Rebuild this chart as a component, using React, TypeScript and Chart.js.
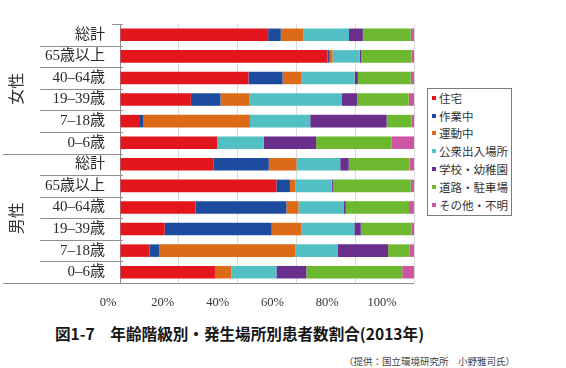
import React, { useEffect, useRef } from 'react';
import { Chart, registerables } from 'chart.js';

Chart.register(...registerables);

// ---- data ----
const ageGroups = ['総計', '65歳以上', '40–64歳', '19–39歳', '7–18歳', '0–6歳'];
const sexGroups = ['女性', '男性'];
const categories = [...ageGroups, ...ageGroups];

const places = ['住宅', '作業中', '運動中', '公衆出入場所', '学校・幼稚園', '道路・駐車場', 'その他・不明'];
const placeColors = ['#E4161D', '#1D4B9E', '#DC6A16', '#52BFC4', '#6A2E8D', '#6CB92F', '#CE55A4'];

// order: 女性(総計,65+,40-64,19-39,7-18,0-6), 男性(same)
const home = [50.4, 70.6, 43.7, 24.1, 6.8, 33.1, 31.9, 53.2, 25.7, 15.2, 10.1, 32.3];
const work = [4.3, 0.7, 11.6, 10.1, 1.2, 0, 18.7, 4.6, 30.9, 36.4, 3.3, 0];
const sport = [7.6, 1.0, 6.3, 9.9, 36.2, 0, 9.4, 1.8, 4.1, 10.1, 46.2, 5.6];
const publicPlaces = [15.6, 9.3, 18.2, 31.4, 20.5, 15.8, 14.9, 12.4, 15.5, 18.0, 14.4, 15.3];
const school = [4.7, 0.5, 1.1, 5.1, 26.0, 17.8, 2.9, 0.4, 0.6, 2.2, 17.2, 10.2];
const road = [16.3, 17.1, 18.0, 17.6, 8.4, 25.6, 20.7, 26.5, 21.5, 17.2, 7.2, 32.6];
const other = [1.1, 0.8, 1.1, 1.8, 0.9, 7.7, 1.5, 1.1, 1.7, 0.9, 1.6, 4.0];
const seriesValues = [home, work, sport, publicPlaces, school, road, other];

const xTickValues = [0, 20, 40, 60, 80, 100];
const xTickLabels = ['0%', '20%', '40%', '60%', '80%', '100%'];

const titleText = '図1-7　年齢階級別・発生場所別患者数割合(2013年)';
const sourceText = '（提供：国立環境研究所　小野雅司氏）';

// ---- styling ----
const SERIF = '"Liberation Serif", "Noto Sans CJK JP", serif';
const SANS = '"Noto Sans CJK JP", "Noto Sans", sans-serif';
// the printed tick labels sit on a slightly compressed, shifted scale
const LABEL_SPREAD = 0.932;
const LABEL_SHIFT = -4.08;

const separatorPlugin = {
  id: 'separators',
  afterDraw(chart: any) {
    const { ctx, chartArea, scales } = chart;
    const y = scales.y;
    const n = categories.length;
    const per = ageGroups.length;
    const boundary = (i: number) => {
      if (i === 0) return chartArea.top;
      if (i === n) return chartArea.bottom;
      return (y.getPixelForValue(i - 1) + y.getPixelForValue(i)) / 2;
    };
    ctx.save();
    ctx.strokeStyle = '#8e8e8e';
    ctx.lineWidth = 1;
    for (let i = 0; i <= n; i++) {
      const py = Math.round(boundary(i)) + 0.5;
      let x0 = 40;
      let x1 = chartArea.left + 3;
      if (i === 0) x0 = chartArea.left - 8;
      if (i % per === 0 && i !== 0) x0 = 3;
      if (i === n) x1 = chartArea.right;
      ctx.beginPath();
      ctx.moveTo(x0, py);
      ctx.lineTo(x1, py);
      ctx.stroke();
    }
    // group labels
    ctx.fillStyle = '#333';
    ctx.font = `16px ${SANS}`;
    ctx.textAlign = 'center';
    ctx.textBaseline = 'middle';
    sexGroups.forEach((g, gi) => {
      const cy = (boundary(gi * per) + boundary((gi + 1) * per)) / 2;
      ctx.save();
      ctx.translate(16, cy);
      ctx.rotate(-Math.PI / 2);
      ctx.fillText(g, 0, 0);
      ctx.restore();
    });
    ctx.restore();
  },
};

export default function App() {
  const canvasRef = useRef<HTMLCanvasElement | null>(null);

  useEffect(() => {
    if (!canvasRef.current) return;
    const chart = new Chart(canvasRef.current, {
      type: 'bar',
      data: {
        labels: categories,
        datasets: places.map((p, i) => ({
          label: p,
          data: seriesValues[i],
          backgroundColor: placeColors[i],
          borderWidth: 0,
          barPercentage: 0.58,
          categoryPercentage: 1.0,
        })),
      },
      options: {
        indexAxis: 'y',
        animation: false,
        responsive: false,
        maintainAspectRatio: false,
        layout: { padding: { top: 6, right: 152, left: 0, bottom: 0 } },
        plugins: { legend: { display: false }, tooltip: { enabled: false } },
        scales: {
          y: {
            type: 'category',
            stacked: true,
            grid: { display: false, drawTicks: false },
            border: { display: true, color: '#8c8c8c' },
            ticks: {
              padding: 15,
              color: '#2a2a2a',
              autoSkip: false,
              font: { family: SERIF, size: 15 },
            },
            afterFit: (s: any) => {
              s.width = 120;
            },
          },
          x: {
            type: 'linear',
            stacked: true,
            min: 0,
            max: 100,
            position: 'bottom',
            grid: {
              drawTicks: false,
              color: (c: any) => (c.tick && c.tick.value === 0 ? 'rgba(0,0,0,0)' : '#dadada'),
            },
            border: { display: false },
            ticks: { display: false, stepSize: 20 },
            afterFit: (s: any) => {
              s.height = 0;
            },
          },
          x2: {
            type: 'linear',
            position: 'bottom',
            min: 0,
            max: 100,
            grid: { display: false, drawTicks: false },
            border: { display: false },
            ticks: {
              autoSkip: false,
              maxRotation: 0,
              padding: 12,
              color: '#333',
              font: { family: SERIF, size: 12.5 },
              callback: (_v: any, i: number) => xTickLabels[i],
            },
            afterBuildTicks: (s: any) => {
              s.ticks = xTickValues.map((v) => ({ value: v * LABEL_SPREAD + LABEL_SHIFT }));
            },
            afterFit: (s: any) => {
              s.height = 35;
            },
          },
        },
      } as any,
      plugins: [separatorPlugin],
    });
    return () => chart.destroy();
  }, []);

  return (
    <div style={{ position: 'absolute', left: 0, top: 0, width: 566, height: 368, background: '#fff', overflow: 'hidden' }}>
      <canvas ref={canvasRef} width={566} height={318} style={{ position: 'absolute', left: 0, top: 0, width: 566, height: 318 }} />
      <div
        style={{
          position: 'absolute',
          left: 427,
          top: 88,
          width: 85,
          height: 128,
          boxSizing: 'border-box',
          border: '1px solid #7a7a7a',
          background: '#fff',
        }}
      >
        {places.map((p, i) => (
          <div
            key={p}
            style={{
              height: 17.8,
              display: 'flex',
              alignItems: 'center',
              paddingLeft: 4,
              fontFamily: SANS,
              fontSize: 11.5,
              color: '#333',
              whiteSpace: 'nowrap',
            }}
          >
            <span style={{ display: 'inline-block', width: 4, height: 4, background: placeColors[i], marginRight: 3 }} />
            {p}
          </div>
        ))}
      </div>
      <div
        style={{
          position: 'absolute',
          left: 55,
          top: 321,
          lineHeight: '24px',
          fontFamily: SANS,
          fontSize: 15.6,
          fontWeight: 'bold',
          color: '#151515',
          whiteSpace: 'nowrap',
        }}
      >
        {titleText}
      </div>
      <div
        style={{
          position: 'absolute',
          right: 51,
          top: 354,
          lineHeight: '14px',
          fontFamily: SANS,
          fontSize: 9.5,
          color: '#444',
          whiteSpace: 'nowrap',
        }}
      >
        {sourceText}
      </div>
    </div>
  );
}
